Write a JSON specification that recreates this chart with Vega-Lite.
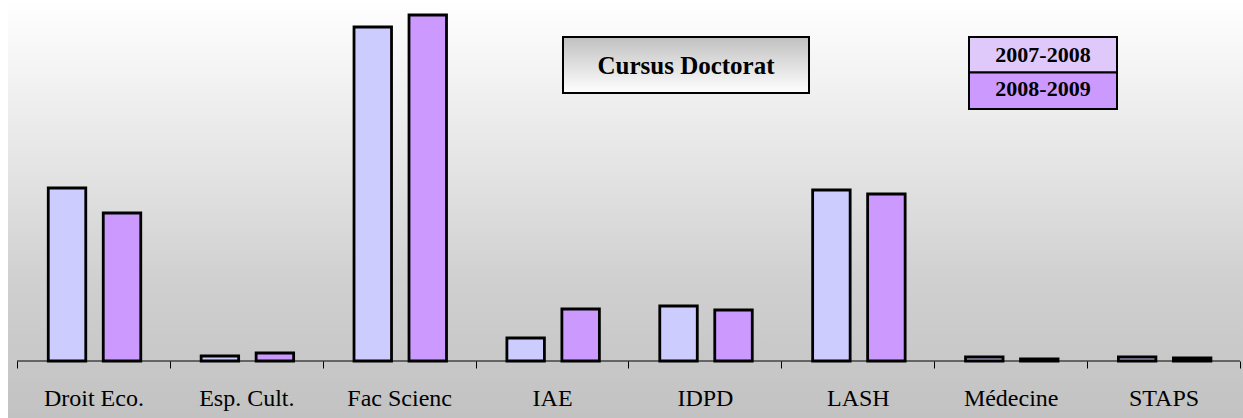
{
  "$schema": "https://vega.github.io/schema/vega-lite/v6.json",
  "width": 1235,
  "height": 418,
  "autosize": {"type": "none"},
  "padding": {"left": 8, "right": 0, "top": 0, "bottom": 0},
  "background": "white",
  "config": {"view": {"stroke": null}},
  "data": {
    "values": [
      {"cat": "Droit Eco.", "year": "2007-2008", "value": 173},
      {"cat": "Droit Eco.", "year": "2008-2009", "value": 148},
      {"cat": "Esp. Cult.", "year": "2007-2008", "value": 5},
      {"cat": "Esp. Cult.", "year": "2008-2009", "value": 8},
      {"cat": "Fac Scienc", "year": "2007-2008", "value": 334},
      {"cat": "Fac Scienc", "year": "2008-2009", "value": 346},
      {"cat": "IAE", "year": "2007-2008", "value": 23},
      {"cat": "IAE", "year": "2008-2009", "value": 52},
      {"cat": "IDPD", "year": "2007-2008", "value": 55},
      {"cat": "IDPD", "year": "2008-2009", "value": 51},
      {"cat": "LASH", "year": "2007-2008", "value": 171},
      {"cat": "LASH", "year": "2008-2009", "value": 167},
      {"cat": "Médecine", "year": "2007-2008", "value": 4},
      {"cat": "Médecine", "year": "2008-2009", "value": 2},
      {"cat": "STAPS", "year": "2007-2008", "value": 4},
      {"cat": "STAPS", "year": "2008-2009", "value": 3}
    ]
  },
  "resolve": {"scale": {"x": "independent"}},
  "layer": [
    {
      "data": {"values": [{"bg": 1}]},
      "mark": {
        "type": "rect",
        "fill": {
          "gradient": "linear", "x1": 0, "y1": 0, "x2": 0, "y2": 1,
          "stops": [
            {"offset": 0, "color": "#ffffff"},
            {"offset": 0.4, "color": "#e4e4e4"},
            {"offset": 0.67, "color": "#d0d0d0"},
            {"offset": 1, "color": "#c2c2c2"}
          ]
        }
      },
      "encoding": {}
    },
    {
      "mark": {"type": "bar", "stroke": "black", "strokeWidth": 2.8},
      "encoding": {
        "x": {
          "field": "cat", "type": "nominal", "sort": null,
          "scale": {"paddingInner": 0, "paddingOuter": 0.0392, "align": 0.75},
          "axis": {
            "title": null, "labelAngle": 0, "labelFont": "Liberation Serif",
            "labelFontSize": 24, "labelColor": "black", "labelPadding": 18,
            "tickBand": "extent", "tickColor": "black", "tickSize": 7, "tickWidth": 1,
            "domain": false, "offset": -57, "grid": false,
            "zindex": 1
          }
        },
        "xOffset": {
          "field": "year", "type": "nominal",
          "scale": {"paddingInner": 0.318, "paddingOuter": 0.549, "align": 0.518}
        },
        "y": {
          "field": "value", "type": "quantitative",
          "scale": {"domain": [-57, 361], "nice": false, "zero": false},
          "axis": null
        },
        "color": {
          "field": "year", "type": "nominal",
          "scale": {"domain": ["2007-2008", "2008-2009"], "range": ["#ccccff", "#cc99ff"]},
          "legend": null
        }
      }
    },
    {
      "data": {"values": [{"line": "baseline"}]},
      "mark": {"type": "rule", "color": "black", "strokeWidth": 1},
      "encoding": {
        "x": {"datum": 0, "type": "quantitative", "scale": {"domain": [-0.0589, 8.0196], "nice": false, "zero": false}, "axis": null},
        "x2": {"datum": 8},
        "y": {"datum": 0, "type": "quantitative", "scale": {"domain": [-57, 361], "nice": false, "zero": false}, "axis": null}
      }
    },
    {
      "data": {"values": [{"box": "title"}]},
      "mark": {
        "type": "rect", "stroke": "black", "strokeWidth": 2,
        "fill": {
          "gradient": "linear", "x1": 0, "y1": 0, "x2": 0, "y2": 1,
          "stops": [
            {"offset": 0, "color": "#c0c0c0"},
            {"offset": 1, "color": "#ffffff"}
          ]
        }
      },
      "encoding": {
        "x": {"datum": 3.5715, "type": "quantitative", "scale": {"domain": [-0.0589, 8.0196], "nice": false, "zero": false}, "axis": null},
        "x2": {"datum": 5.1807},
        "y": {"datum": 324, "type": "quantitative", "scale": {"domain": [-57, 361], "nice": false, "zero": false}, "axis": null},
        "y2": {"datum": 268}
      }
    },
    {
      "data": {"values": [{"box": "title"}]},
      "mark": {"type": "text", "text": "Cursus Doctorat", "font": "Liberation Serif", "fontWeight": "bold", "fontSize": 25, "align": "center", "baseline": "alphabetic", "color": "black"},
      "encoding": {
        "x": {"datum": 4.3761, "type": "quantitative", "scale": {"domain": [-0.0589, 8.0196], "nice": false, "zero": false}, "axis": null},
        "y": {"datum": 287, "type": "quantitative", "scale": {"domain": [-57, 361], "nice": false, "zero": false}, "axis": null}
      }
    },
    {
      "data": {"values": [{"year": "2007-2008"}]},
      "mark": {"type": "rect", "stroke": "black", "strokeWidth": 2, "fill": "#dfc8fa"},
      "encoding": {
        "x": {"datum": 6.2273, "type": "quantitative", "scale": {"domain": [-0.0589, 8.0196], "nice": false, "zero": false}, "axis": null},
        "x2": {"datum": 7.1954},
        "y": {"datum": 324, "type": "quantitative", "scale": {"domain": [-57, 361], "nice": false, "zero": false}, "axis": null},
        "y2": {"datum": 288.5}
      }
    },
    {
      "data": {"values": [{"year": "2008-2009"}]},
      "mark": {"type": "rect", "stroke": "black", "strokeWidth": 2, "fill": "#cc99ff"},
      "encoding": {
        "x": {"datum": 6.2273, "type": "quantitative", "scale": {"domain": [-0.0589, 8.0196], "nice": false, "zero": false}, "axis": null},
        "x2": {"datum": 7.1954},
        "y": {"datum": 288.5, "type": "quantitative", "scale": {"domain": [-57, 361], "nice": false, "zero": false}, "axis": null},
        "y2": {"datum": 252}
      }
    },
    {
      "data": {"values": [{"year": "2007-2008"}]},
      "mark": {"type": "text", "text": "2007-2008", "font": "Liberation Serif", "fontWeight": "bold", "fontSize": 22, "align": "center", "baseline": "alphabetic", "color": "black"},
      "encoding": {
        "x": {"datum": 6.7113, "type": "quantitative", "scale": {"domain": [-0.0589, 8.0196], "nice": false, "zero": false}, "axis": null},
        "y": {"datum": 299, "type": "quantitative", "scale": {"domain": [-57, 361], "nice": false, "zero": false}, "axis": null}
      }
    },
    {
      "data": {"values": [{"year": "2008-2009"}]},
      "mark": {"type": "text", "text": "2008-2009", "font": "Liberation Serif", "fontWeight": "bold", "fontSize": 22, "align": "center", "baseline": "alphabetic", "color": "black"},
      "encoding": {
        "x": {"datum": 6.7113, "type": "quantitative", "scale": {"domain": [-0.0589, 8.0196], "nice": false, "zero": false}, "axis": null},
        "y": {"datum": 265, "type": "quantitative", "scale": {"domain": [-57, 361], "nice": false, "zero": false}, "axis": null}
      }
    }
  ]
}
